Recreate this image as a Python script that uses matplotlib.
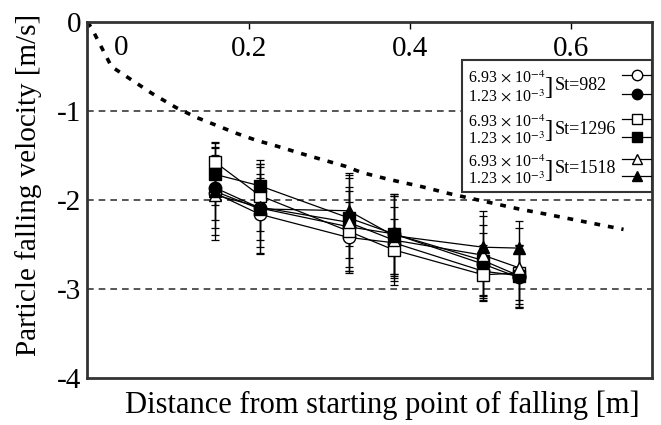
import matplotlib
matplotlib.use("Agg")
import matplotlib.pyplot as plt
from matplotlib.patches import Rectangle
from matplotlib.lines import Line2D

plt.rcParams['font.family'] = ['Liberation Serif', 'DejaVu Serif']
plt.rcParams['mathtext.fontset'] = 'stix'

# ---- data ----
x_ticks = [0, 0.2, 0.4, 0.6]
x_tick_labels = ['0', '0.2', '0.4', '0.6']
y_ticks = [0, -1, -2, -3, -4]
y_tick_labels = ['0', '-1', '-2', '-3', '-4']

dist = [0.158, 0.214, 0.324, 0.380, 0.491, 0.535]

v_open_circle = [-1.92, -2.16, -2.42, -2.48, -2.80, -2.85]
v_fill_circle = [-1.86, -2.09, -2.30, -2.38, -2.72, -2.87]
v_open_square = [-1.57, -1.95, -2.35, -2.56, -2.84, -2.82]
v_fill_square = [-1.71, -1.84, -2.20, -2.38, -2.68, -2.85]
v_open_tri = [-1.94, -2.08, -2.25, -2.45, -2.62, -2.76]
v_fill_tri = [-1.90, -2.10, -2.12, -2.40, -2.53, -2.54]

e_open_circle = [0.30, 0.45, 0.40, 0.40, 0.30, 0.35]
e_fill_circle = [0.45, 0.50, 0.45, 0.45, 0.35, 0.30]
e_open_square = [0.17, 0.40, 0.45, 0.35, 0.30, 0.30]
e_fill_square = [0.35, 0.25, 0.45, 0.45, 0.40, 0.35]
e_open_tri = [0.45, 0.45, 0.55, 0.50, 0.50, 0.45]
e_fill_tri = [0.55, 0.35, 0.40, 0.45, 0.35, 0.30]

curve_x = [0, 0.005, 0.03, 0.05, 0.08, 0.11, 0.135, 0.16, 0.185, 0.21, 0.23,
           0.27, 0.32, 0.34, 0.375, 0.415, 0.45, 0.49, 0.535, 0.57, 0.62, 0.665]
curve_v = [0, -0.06, -0.50, -0.62, -0.80, -0.96, -1.07, -1.16, -1.25, -1.33, -1.38,
           -1.49, -1.62, -1.69, -1.77, -1.85, -1.93, -2.01, -2.10, -2.16, -2.25, -2.33]

conc_labels = [r"6.93 $\times$ 10$^{-4}$", r"1.23 $\times$ 10$^{-3}$"]
st_labels = ["St=982", "St=1296", "St=1518"]

series = [
    (v_open_circle, e_open_circle, 'o', 'white'),
    (v_fill_circle, e_fill_circle, 'o', 'black'),
    (v_open_square, e_open_square, 's', 'white'),
    (v_fill_square, e_fill_square, 's', 'black'),
    (v_open_tri, e_open_tri, '^', 'white'),
    (v_fill_tri, e_fill_tri, '^', 'black'),
]

fig = plt.figure(figsize=(6.61, 4.25), dpi=100)
ax = fig.add_axes([0.132, 0.1106, 0.854, 0.8374])

for yv in [-1, -2, -3]:
    ax.axhline(yv, color='#3a3a3a', lw=1.2, dashes=(4, 3), zorder=1)

ax.plot(curve_x, curve_v, color='black', lw=2.6, dashes=(1.6, 2.2), zorder=2)

for vals, errs, mk, fc in series:
    ax.errorbar(dist, vals, yerr=errs, fmt='-', color='black', lw=0.9,
                elinewidth=0.9, capsize=3, capthick=0.9, zorder=3)
    ax.plot(dist, vals, linestyle='none', marker=mk, ms=9, mfc=fc, mec='black',
            mew=1.0, zorder=4)

ax.set_xlim(0, 0.7)
ax.set_ylim(-4, 0)
ax.set_xticks(x_ticks)
ax.set_xticklabels([''] + x_tick_labels[1:])
ax.set_yticks(y_ticks)
ax.set_yticklabels(y_tick_labels)
ax.tick_params(axis='x', top=True, bottom=False, labeltop=True, labelbottom=False,
               direction='in', length=5, width=1, pad=-29, labelsize=21)
ax.tick_params(axis='y', left=False, labelsize=21, pad=1)
ax.text(x_ticks[0] + 0.042, 0.928, x_tick_labels[0], transform=ax.get_xaxis_transform(),
        ha='center', va='center', fontsize=21)

for s in ax.spines.values():
    s.set_linewidth(2)
    s.set_color('#333333')

ax.set_xlabel("Distance from starting point of falling [m]", fontsize=22)
ax.xaxis.set_label_coords(0.522, -0.035)
ax.set_ylabel("Particle falling velocity [m/s]", fontsize=21)
ax.yaxis.set_label_coords(-0.08, 0.542)

# legend box
ax.add_patch(Rectangle((0.664, 0.522), 0.336, 0.371, transform=ax.transAxes,
                       facecolor='white', edgecolor='#333333', lw=1.5, zorder=5))
row_y = [0.843, 0.789, 0.719, 0.669, 0.607, 0.559]
for i, (vals, errs, mk, fc) in enumerate(series):
    yy = row_y[i] + 0.008
    ax.add_line(Line2D([0.947, 1.0], [yy, yy], transform=ax.transAxes, color='black',
                       lw=0.9, zorder=6))
    ax.add_line(Line2D([0.973], [yy], transform=ax.transAxes, marker=mk, ms=7.5,
                       mfc=fc, mec='black', mew=1.0, linestyle='none', zorder=7))
    ax.text(0.674, row_y[i], conc_labels[i % 2], transform=ax.transAxes,
            ha='left', va='center', fontsize=11.5, zorder=6)
for g in range(3):
    ymid = (row_y[2 * g] + row_y[2 * g + 1]) / 2
    ax.text(0.81, ymid, "]", transform=ax.transAxes, ha='left', va='center',
            fontsize=18, zorder=6)
    ax.text(0.828, ymid + 0.005, st_labels[g], transform=ax.transAxes, ha='left',
            va='center', fontsize=13, zorder=6)

fig.savefig("out.png", dpi=100)
